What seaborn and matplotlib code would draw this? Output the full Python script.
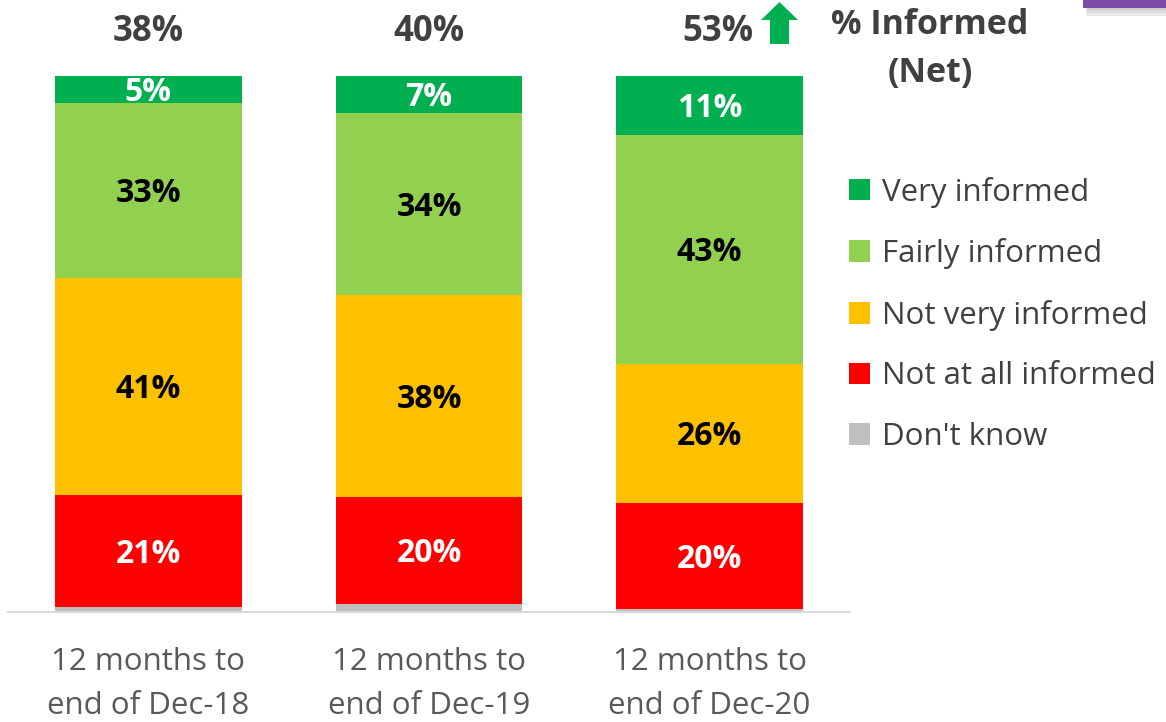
import numpy as np
import pandas as pd
import matplotlib
matplotlib.use("Agg")
import matplotlib.pyplot as plt
from matplotlib.patches import Patch, Polygon, Rectangle
import seaborn as sns

periods = ["12 months to\nend of Dec-18", "12 months to\nend of Dec-19", "12 months to\nend of Dec-20"]
very_informed = [5, 7, 11]
fairly_informed = [33, 34, 43]
not_very_informed = [41, 38, 26]
not_at_all_informed = [21, 20, 20]
dont_know = [1, 1.5, 0.5]
net_informed = ["38%", "40%", "53%"]

series_names = ["Very informed", "Fairly informed", "Not very informed", "Not at all informed", "Don't know"]
series_colors = ["#00B050", "#92D050", "#FFC000", "#FF0000", "#BFBFBF"]
label_colors = ["white", "black", "black", "white", None]

sns.set_theme(style="white")
plt.rcParams['font.family'] = ['Open Sans', 'DejaVu Sans']

W, H = 1166, 722
fig = plt.figure(figsize=(W / 100, H / 100), dpi=100)
ax = fig.add_axes([8 / W, 1 - 612 / H, 842 / W, 536 / H])

raw = np.array([very_informed, fairly_informed, not_very_informed, not_at_all_informed, dont_know], dtype=float)
pct = raw / raw.sum(axis=0) * 100  # 100% stacked
order_bottom_up = [4, 3, 2, 1, 0]
cum = np.zeros(3)
tops = {}
bottoms = {}
for k in order_bottom_up:
    bottoms[k] = cum.copy()
    cum = cum + pct[k]
    tops[k] = cum.copy()

for k in [0, 1, 2, 3, 4]:
    df = pd.DataFrame({"period": periods, "value": tops[k]})
    sns.barplot(data=df, x="period", y="value", color=series_colors[k], width=0.665,
                linewidth=0, saturation=1, ax=ax, order=periods)

for k in range(4):
    for i in range(3):
        yc = (bottoms[k][i] + tops[k][i]) / 2
        ax.text(i, yc - 0.6, f"{raw[k][i]:.0f}%", ha="center", va="center", fontsize=23,
                fontweight="bold", color=label_colors[k])

for i in range(3):
    xo = 0.03 if i == 2 else 0
    ax.text(i + xo, 108.3, net_informed[i], ha="center", va="center", fontsize=25,
            fontweight="bold", color="#404040", clip_on=False)

ax.set_xlim(-0.5, 2.5)
ax.set_ylim(0, 100)
ax.set_xlabel("")
ax.set_ylabel("")
ax.set_yticks([])
for s in ["top", "left", "right"]:
    ax.spines[s].set_visible(False)
ax.spines["bottom"].set_color("#D9D9D9")
ax.spines["bottom"].set_linewidth(1.5)
ax.tick_params(axis="x", length=0, pad=25, labelsize=22.5, labelcolor="#595959")
for t in ax.get_xticklabels():
    t.set_linespacing(1.62)

handles = [Patch(facecolor=c, edgecolor="none") for c in series_colors]
leg = fig.legend(handles, series_names, loc="upper left", bbox_to_anchor=(836 / W, 1 - 164 / H),
                 frameon=False, fontsize=22.5, labelspacing=0.98, handlelength=0.68, handleheight=0.68,
                 handletextpad=0.4, borderaxespad=0)
for t in leg.get_texts():
    t.set_color("#404040")

fig.text(930 / W, 1 - 49 / H, "% Informed\n(Net)", ha="center", va="center", fontsize=24.5,
         fontweight="bold", color="#404040", linespacing=1.5)

pts = [(770, 44), (789, 44), (789, 20), (798, 20), (779.5, 2), (761, 20), (770, 20)]
pts_fig = [(x / W, 1 - y / H) for x, y in pts]
fig.patches.append(Polygon(pts_fig, closed=True, facecolor="#00B050", edgecolor="none",
                           transform=fig.transFigure))

for j, c in enumerate(["#E8E8E8", "#DADADA", "#CCCCCC"]):
    fig.patches.append(Rectangle(((1086 + j) / W, 1 - (16 - 3 * j) / H), 90 / W, (16 - 3 * j) / H,
                                 facecolor=c, edgecolor="none", transform=fig.transFigure))
fig.patches.append(Rectangle((1083 / W, 1 - 8 / H), 90 / W, 8 / H, facecolor="#7B4BA6",
                             edgecolor="none", transform=fig.transFigure))

fig.savefig("out.png", dpi=100)
